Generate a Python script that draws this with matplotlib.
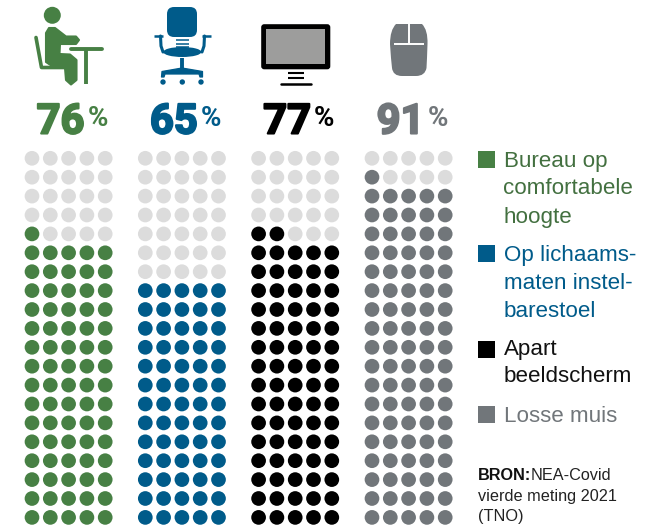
import matplotlib
matplotlib.use("Agg")
import matplotlib.pyplot as plt
import matplotlib.patheffects as pe
from matplotlib.patches import Circle, Rectangle, FancyBboxPatch, Ellipse, Polygon, PathPatch
from matplotlib.path import Path

plt.rcParams['font.family'] = ['Liberation Sans', 'DejaVu Sans']

percentages = [76, 65, 77, 91]
colors = ['#478044', '#005b8a', '#000000', '#71767a']
labels = [['Bureau op', 'comfortabele', 'hoogte'],
          ['Op lichaams-', 'maten instel-', 'barestoel'],
          ['Apart', 'beeldscherm'],
          ['Losse muis']]
label_colors = ['#437040', '#005b8a', '#111111', '#71767a']
empty_color = '#dcdcdc'
n_rows, n_cols = 20, 5

fig = plt.figure(figsize=(6.54, 5.25), dpi=100)
ax = fig.add_axes([0, 0, 1, 1])
ax.set_xlim(0, 654); ax.set_ylim(525, 0); ax.axis('off')

group_x = [32.0, 145.3, 258.6, 372.0]
for pct, col, gx in zip(percentages, colors, group_x):
    xs, ys, cs = [], [], []
    for k in range(n_rows * n_cols):
        row = k // n_cols
        c = k % n_cols
        xs.append(gx + c * 18.3)
        ys.append(517.4 - row * 18.9)
        cs.append(col if k < pct else empty_color)
    ax.scatter(xs, ys, s=112, c=cs, linewidths=0, zorder=2)
    t = ax.text(gx + 28.5, 133.5, str(pct), fontsize=30, family=['Roboto', 'DejaVu Sans'], fontweight='bold',
                color=col, ha='center', va='baseline', zorder=3)
    t.set_path_effects([pe.withStroke(linewidth=1.5, foreground=col)])
    ax.text(gx + 55.5, 126, '%', fontsize=20, family=['Roboto', 'DejaVu Sans'], fontweight='bold',
            color=col, ha='left', va='baseline', zorder=3)


def line(pts, color, w, cap='round'):
    ax.plot(*zip(*pts), color=color, lw=w, solid_capstyle=cap, solid_joinstyle='round', zorder=3)


def smooth_poly(pts, color, w=1.5):
    ax.add_patch(Polygon(pts, closed=True, fc=color, ec=color, lw=w, joinstyle='round', zorder=3))


# person icon
g = colors[0]
ax.add_patch(Circle((52.3, 15.3), 8.5, fc=g, ec='none', zorder=3))
line([(36, 37.5), (41.5, 67.5), (66, 67.5)], g, 2.6)
smooth_poly([(46, 33), (49, 28), (55, 28), (66, 36.5), (76, 36.5), (79, 40), (76, 44),
             (60, 44), (59.5, 54), (70, 54.5), (76.5, 60), (76.5, 80), (71, 84.5), (66, 80),
             (65, 68), (52, 66), (46, 62)], g)
line([(71, 49), (102, 49)], g, 2.8)
line([(86, 49), (86, 84)], g, 2.8, 'butt')

# chair icon
b = colors[1]
ax.add_patch(FancyBboxPatch((170, 10), 24, 24, boxstyle='round,pad=3,rounding_size=7',
                            fc=b, ec='none', zorder=3))
ax.add_patch(Ellipse((182.3, 52), 38, 10, fc=b, ec='none', zorder=3))
for yy in (40, 43.5, 46.5):
    line([(176, yy), (189, yy)], b, 1.1, 'butt')
line([(153.5, 36), (163, 36)], b, 1.8, 'butt')
line([(160.5, 36), (161, 46), (163, 52)], b, 2.2)
line([(211, 36), (202, 36)], b, 1.8, 'butt')
line([(204.5, 36), (204, 46), (202, 52)], b, 2.2)
line([(182.3, 58), (182.3, 70)], b, 2.8, 'butt')
smooth_poly([(162, 71.5), (182, 68), (202.5, 71.5), (202.5, 77), (200, 77), (199, 74),
             (165, 74), (164, 77), (161.5, 77)], b, 0.9)
for wx in (163, 182.3, 201):
    ax.add_patch(Circle((wx, 82), 2.7, fc=b, ec='none', zorder=3))

# monitor icon
ax.add_patch(FancyBboxPatch((263, 26), 65.5, 41.5, boxstyle='round,pad=1.8,rounding_size=3',
                            fc='#000000', ec='none', zorder=3))
ax.add_patch(Rectangle((266, 29), 59, 35, fc='#9d9d9c', ec='none', zorder=4))
line([(287.5, 72.7), (304, 72.7)], 'k', 1.5, 'butt')
line([(287.5, 78.3), (304, 78.3)], 'k', 1.5, 'butt')
line([(281, 83.8), (311, 83.8)], 'k', 1.8)

# mouse icon
m = colors[3]
verts = [(396, 24), (422, 24), (428, 30), (427.5, 44), (427, 60), (426.5, 68), (425, 76), (416, 76),
         (402, 76), (393, 76), (392, 68), (391, 60), (390, 44), (390, 30), (396, 24), (396, 24)]
codes = [Path.MOVETO, Path.LINETO, Path.CURVE3, Path.CURVE3, Path.CURVE3, Path.CURVE3, Path.CURVE3, Path.LINETO,
         Path.LINETO, Path.CURVE3, Path.CURVE3, Path.CURVE3, Path.CURVE3, Path.CURVE3, Path.CURVE3, Path.CLOSEPOLY]
ax.add_patch(PathPatch(Path(verts, codes), fc=m, ec='none', zorder=3))
line([(394, 43.8), (424, 43.8)], 'white', 1.4, 'butt')
line([(409, 24), (409, 43.8)], 'white', 1.4, 'butt')

# legend
line_h = 28
ys_start = [161, 255.5, 349, 417]
sq_y = [151, 245, 340.5, 406]
for lab, lc, swatch, y0, sy in zip(labels, label_colors, colors, ys_start, sq_y):
    ax.add_patch(Rectangle((478, sy), 17, 17, fc=swatch, ec='none', zorder=3))
    for i, s in enumerate(lab):
        ax.text(503.5, y0 + i * line_h, s, fontsize=16.1, color=lc, ha='left', va='center')

# source
ax.text(478, 475, 'BRON:', fontsize=11.7, fontweight='bold', color='#111111', ha='left', va='center')
ax.text(530.5, 475, 'NEA-Covid', fontsize=11.7, color='#222222', ha='left', va='center')
ax.text(478, 496, 'vierde meting 2021', fontsize=11.7, color='#222222', ha='left', va='center')
ax.text(478, 517, '(TNO)', fontsize=11.7, color='#222222', ha='left', va='center')

fig.savefig('out.png', dpi=100)
